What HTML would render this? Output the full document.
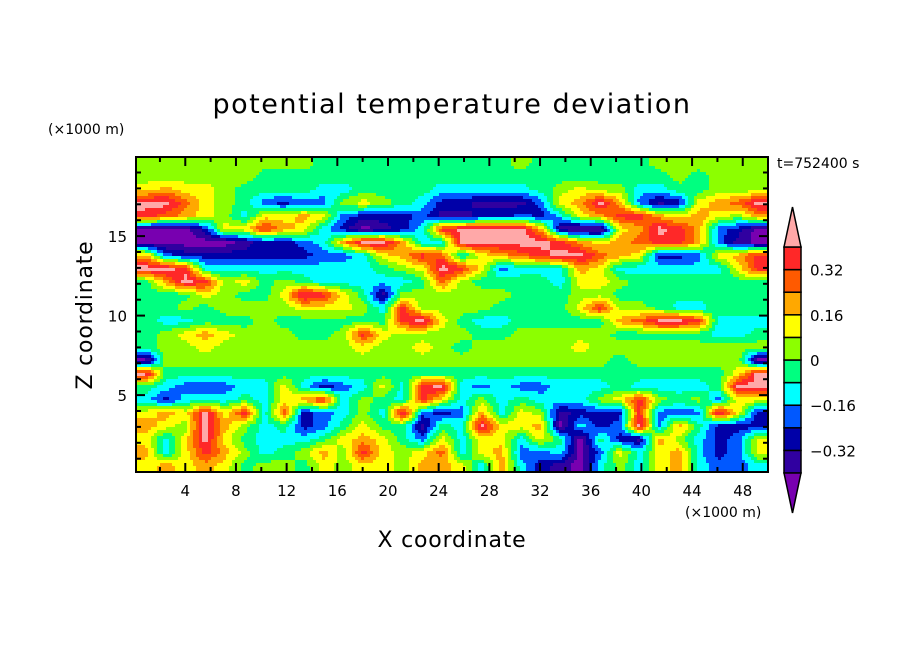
<!DOCTYPE html>
<html><head><meta charset="utf-8">
<style>
body{margin:0;background:#fff;width:904px;height:654px;overflow:hidden;}
svg{display:block;font-family:"DejaVu Sans","Liberation Sans",sans-serif;}
</style></head>
<body>
<svg id="chart" width="904" height="654" viewBox="0 0 904 654">
<rect width="904" height="654" fill="#fff"/>
<text x="452" y="113" text-anchor="middle" font-size="27" letter-spacing="1.5">potential temperature deviation</text>
<text x="48" y="134" font-size="14">(×1000 m)</text>
<text x="777" y="168" font-size="14">t=752400 s</text>
<text x="685" y="517" font-size="14">(×1000 m)</text>
<text x="452" y="547" text-anchor="middle" font-size="22" letter-spacing="0.8">X coordinate</text>
<text transform="translate(92,315) rotate(-90)" text-anchor="middle" font-size="22" letter-spacing="0.8">Z coordinate</text>
<g id="field"></g>
<g id="axes"></g>
<g id="cbar"></g>
</svg>
<script>
// data: potential temperature deviation, hundredths of K, rows from top (z high) to bottom
const row00=[4,4,4,4,4,4,4,4,4,-4,-4,-4,-4,-4,-4,-4,-4,-4,-4,4,-4,-4,-4,-4,-4,-4,4,4,4,4,4,4];
const row01=[4,4,4,4,4,4,-4,-4,-4,-4,-4,-4,-4,-4,-4,-4,-4,-4,-4,-4,-4,-4,-4,-4,-4,-4,-4,4,-4,4,4,4];
const row02=[12,20,12,12,4,-4,-4,-4,-4,-12,-12,-4,-4,-4,-4,-12,-12,-12,-12,-12,-4,4,12,4,4,-12,-12,-4,-4,4,4,4];
const row03=[44,44,28,12,4,-4,-20,-28,-20,-20,4,12,4,-4,-12,-28,-28,-36,-36,-36,-20,12,20,44,20,-20,-36,-28,12,20,28,44];
const row04=[36,28,20,12,4,-12,12,12,20,12,-20,-28,-28,-28,-20,-36,-36,-28,-28,-20,-28,-12,12,20,36,36,20,12,20,12,4,20];
const row05=[-44,-44,-44,-28,12,12,36,20,12,-12,-28,-44,-36,-28,-12,36,44,44,44,44,20,-36,-44,-44,12,20,44,36,20,-20,-28,-44];
const row06=[-44,-44,-44,-44,-44,-36,-28,-28,-20,-12,20,44,44,20,-12,-12,44,44,44,44,44,36,20,12,20,28,36,36,20,-20,-36,-44];
const row07=[20,-20,-28,-28,-28,-28,-28,-28,-28,-20,-20,-12,12,20,36,28,-12,12,20,28,36,44,44,28,20,12,-28,-28,-20,12,20,36];
const row08=[44,44,36,-12,-12,-12,-12,-12,-12,-12,-12,-12,-4,4,12,44,36,12,-20,-12,-12,-12,20,12,-12,-12,-12,-12,-12,-12,12,36];
const row09=[-4,20,44,36,4,12,-4,4,-4,-12,-12,-12,-12,-12,-4,28,4,-4,-4,-4,-4,-12,12,12,4,-4,-4,-4,-4,-4,-4,-4];
const row10=[-4,-4,-4,12,4,-4,-4,12,44,36,12,-4,-36,4,4,4,4,4,4,-4,-4,-4,4,4,-4,-4,-4,-4,-4,-4,-4,-4];
const row11=[-4,-4,4,-4,4,4,4,4,12,12,12,4,-12,36,4,4,4,4,-4,-4,-4,-4,12,36,4,4,-4,-12,-12,-4,-4,-4];
const row12=[-4,-12,-12,-4,-4,-4,4,-4,-4,-4,-4,-4,-4,36,44,12,-4,-12,-12,-4,-4,-4,-4,-4,20,28,44,44,36,-12,-12,-12];
const row13=[-4,4,12,20,12,4,4,4,-4,-4,4,36,12,4,4,4,4,-4,-4,4,4,4,4,4,-4,-4,-4,-4,-4,-12,-12,-4];
const row14=[-4,4,4,12,4,4,4,4,4,4,4,12,4,4,12,4,-4,4,4,4,4,4,12,4,4,4,4,4,4,4,4,4];
const row15=[-44,4,4,4,4,4,4,4,4,4,4,4,4,4,4,4,4,4,4,4,4,4,4,4,-4,4,4,4,4,4,4,-44];
const row16=[44,-4,-4,-4,-4,-4,-4,-4,-4,-4,-4,-4,-4,-4,-4,-4,-4,-4,-4,-4,-4,-4,-4,-4,-4,-4,-4,-4,-4,-4,12,44];
const row17=[-4,-12,-20,-20,-20,-12,-12,12,-12,-28,-20,-12,12,-12,36,44,-12,-20,-12,-20,-20,-12,-12,-12,-4,-12,-12,-12,-12,-4,44,44];
const row18=[-12,-28,-12,-12,-12,-4,-12,12,20,36,-12,4,-4,-12,36,12,-12,4,-12,-4,-12,-12,-12,4,12,36,4,-4,4,-20,12,12];
const row19=[12,20,12,44,12,36,-12,28,-28,-20,-12,4,-12,44,-20,-28,-20,20,-12,12,4,-36,-28,-28,-28,36,-20,-20,-20,44,12,-28];
const row20=[20,12,4,44,20,4,-12,-4,-28,-20,-4,12,-4,-4,-36,-4,-12,44,12,12,20,-44,-12,-28,-20,44,-20,20,-4,-28,-28,-28];
const row21=[12,-12,12,44,12,-4,-12,-12,-12,-4,12,20,12,-4,-20,12,-12,12,12,-12,12,-4,-44,-4,-28,-36,20,4,-12,-28,-20,12];
const row22=[20,-12,12,36,20,4,-12,-4,4,20,4,36,12,4,12,28,-12,12,20,-20,-20,-12,-44,-20,12,-12,12,20,-12,-28,-20,12];
const row23=[12,20,12,20,12,-4,4,4,-4,12,4,12,12,4,20,20,12,-12,20,-12,-28,-36,-44,-12,4,-12,12,20,-12,-20,-20,-12];
const grid=[row00,row01,row02,row03,row04,row05,row06,row07,row08,row09,row10,row11,row12,row13,row14,row15,row16,row17,row18,row19,row20,row21,row22,row23];
const levelBounds=[-0.40,-0.32,-0.24,-0.16,-0.08,0,0.08,0.16,0.24,0.32,0.40];
const levelColors=["#7800b0","#3000a0","#0000a8","#0058ff","#00ffff","#00ff80","#8cff00","#ffff00","#ffa800","#ff5a00","#ff2828","#ffa8a8"];
const xTicks=[4,8,12,16,20,24,28,32,36,40,44,48];
const zTicks=[5,10,15];
const cbarLabels=[0.32,0.16,0,-0.16,-0.32];

const NS="http://www.w3.org/2000/svg";
const X0=136,X1=768,Y0=157,Y1=472;
const xs=u=>134.6+12.67*u;
const zs=z=>474.6-15.9*z;
function mk(tag,attrs,parent){const e=document.createElementNS(NS,tag);for(const k in attrs)e.setAttribute(k,attrs[k]);parent.appendChild(e);return e;}
function colorFor(v){let i=0;while(i<levelBounds.length&&v>=levelBounds[i])i++;return levelColors[i];}

// field
const field=document.getElementById('field');
const nr=grid.length,nc=grid[0].length;
const cw=(X1-X0)/nc,ch=(Y1-Y0)/nr;
function val(px,py){
  let gx=(px-X0)/cw-0.5,gy=(py-Y0)/ch-0.5;
  gx=Math.max(0,Math.min(nc-1,gx));gy=Math.max(0,Math.min(nr-1,gy));
  const i0=Math.floor(gx),j0=Math.floor(gy),i1=Math.min(nc-1,i0+1),j1=Math.min(nr-1,j0+1);
  const fx=gx-i0,fy=gy-j0;
  const a=grid[j0][i0]*(1-fx)+grid[j0][i1]*fx,b=grid[j1][i0]*(1-fx)+grid[j1][i1]*fx;
  return (a*(1-fy)+b*fy)/100;
}
const step=3;
function flush(x0,x1,py,col){
  const r=mk('rect',{x:x0,y:py,width:x1-x0+0.5,height:Math.min(step,Y1-py)+0.5,fill:col},field);
  
  
}
for(let py=Y0;py<Y1;py+=step){
  let runStart=X0,runCol=null;
  for(let px=X0;px<X1;px+=step){
    const c=colorFor(val(Math.min(px+step/2,X1),py+step/2));
    if(c!==runCol){
      if(runCol)flush(runStart,px,py,runCol);
      runStart=px;runCol=c;
    }
  }
  if(runCol)flush(runStart,X1,py,runCol);
}

// axes
const axes=document.getElementById('axes');
const frame=mk('rect',{x:X0,y:Y0,width:X1-X0,height:Y1-Y0,fill:'none',stroke:'#000','stroke-width':2},axes);


for(let u=2;u<=50;u+=2){
  const x=xs(u);if(x>X1-1)continue;
  const len=(u%4===0)?9:5;
  mk('line',{x1:x,x2:x,y1:Y1,y2:Y1-len,stroke:'#000','stroke-width':2},axes);
  mk('line',{x1:x,x2:x,y1:Y0,y2:Y0+len,stroke:'#000','stroke-width':2},axes);
}
for(let z=1;z<20;z++){
  const y=zs(z);const len=(z%5===0)?9:5;
  mk('line',{x1:X0,x2:X0+len,y1:y,y2:y,stroke:'#000','stroke-width':2},axes);
  mk('line',{x1:X1,x2:X1-len,y1:y,y2:y,stroke:'#000','stroke-width':2},axes);
}
xTicks.forEach(u=>{
  const t=mk('text',{x:xs(u),y:496,'text-anchor':'middle','font-size':15},axes);t.textContent=u;
  
  
});
zTicks.forEach(z=>{
  const t=mk('text',{x:127,y:zs(z)+6,'text-anchor':'end','font-size':15},axes);t.textContent=z;
  
  
});

// colorbar
const cb=document.getElementById('cbar');
const CX0=784,CX1=801,CY0=247,CY1=473;
const bh=(CY1-CY0)/10;
const cy=v=>CY1-(v-levelBounds[0])/(levelBounds[10]-levelBounds[0])*(CY1-CY0);
for(let i=1;i<=10;i++){
  const r=mk('rect',{x:CX0,y:cy(levelBounds[i]),width:CX1-CX0,height:bh,fill:levelColors[i],stroke:'#000','stroke-width':1.5},cb);
  
  
}
const tt=mk('polygon',{points:`${CX0},${CY0} ${CX1},${CY0} ${(CX0+CX1)/2},207`,fill:levelColors[11],stroke:'#000','stroke-width':1.5},cb);


const tb=mk('polygon',{points:`${CX0},${CY1} ${CX1},${CY1} ${(CX0+CX1)/2},513`,fill:levelColors[0],stroke:'#000','stroke-width':1.5},cb);


cbarLabels.forEach(v=>{
  const t=mk('text',{x:810,y:cy(v)+6,'font-size':15},cb);
  t.textContent=v===0?'0':(v<0?'−'+String(-v):String(v));
  
  
});
</script>
</body></html>
